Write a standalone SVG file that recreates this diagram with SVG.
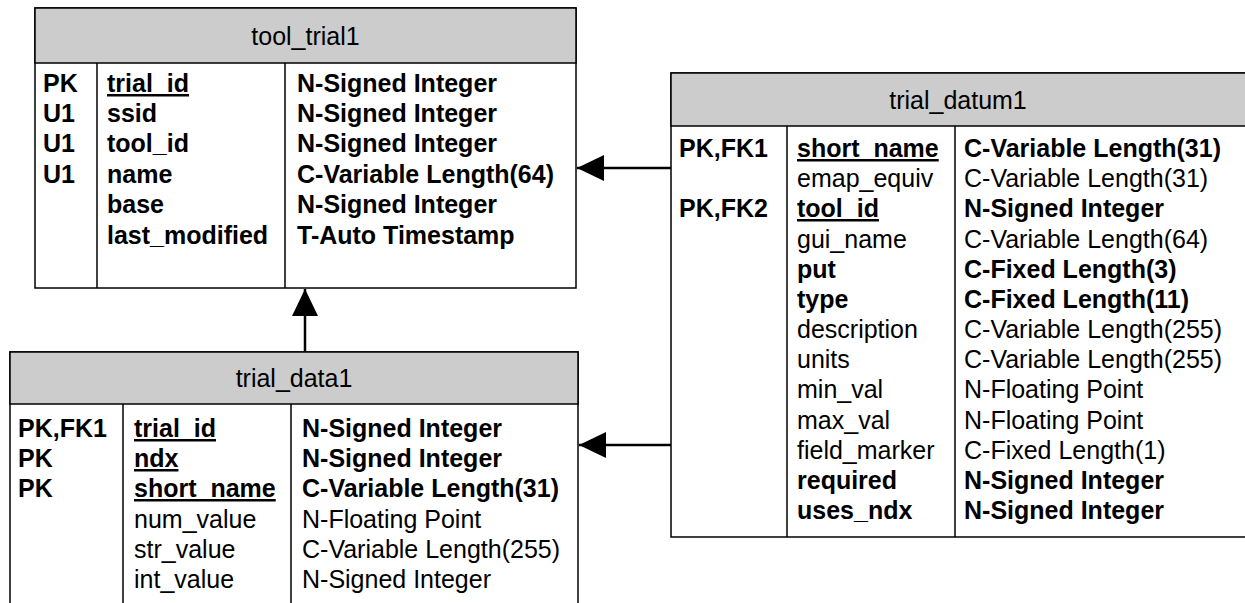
<svg xmlns="http://www.w3.org/2000/svg" width="1245" height="603" viewBox="0 0 1245 603">
<style>
.box{fill:#fff;stroke:#000;stroke-width:1.5}
.hdr{fill:#cccccc;stroke:#000;stroke-width:1.5}
.div{stroke:#000;stroke-width:1.5;fill:none}
text{font-family:"Liberation Sans",Arial,sans-serif;font-size:25px;fill:#000}
.t{text-anchor:middle}
.b{font-weight:bold}
.u{text-decoration:underline}
.conn{stroke:#000;stroke-width:2.5;fill:none}
</style>
<defs>
<marker id="arr" markerUnits="userSpaceOnUse" viewBox="0 0 27 26" refX="27" refY="13" markerWidth="27" markerHeight="26" orient="auto">
<path d="M0,0 L27,13 L0,26 Z" fill="#000"/>
</marker>
</defs>

<g id="tool_trial1">
<rect class="box" x="35" y="8" width="541" height="280"/>
<rect class="hdr" x="35" y="8" width="541" height="55"/>
<line class="div" x1="97" y1="63" x2="97" y2="288"/>
<line class="div" x1="285" y1="63" x2="285" y2="288"/>
<text class="t" x="305.5" y="45">tool_trial1</text>
<text class="b" x="43" y="92">PK</text>
<text class="b" x="43" y="122">U1</text>
<text class="b" x="43" y="152">U1</text>
<text class="b" x="43" y="183">U1</text>
<text class="b u" x="107" y="92">trial_id</text>
<text class="b" x="107" y="122">ssid</text>
<text class="b" x="107" y="152">tool_id</text>
<text class="b" x="107" y="183">name</text>
<text class="b" x="107" y="213">base</text>
<text class="b" x="107" y="244">last_modified</text>
<text class="b" x="297" y="92">N-Signed Integer</text>
<text class="b" x="297" y="122">N-Signed Integer</text>
<text class="b" x="297" y="152">N-Signed Integer</text>
<text class="b" x="297" y="183">C-Variable Length(64)</text>
<text class="b" x="297" y="213">N-Signed Integer</text>
<text class="b" x="297" y="244">T-Auto Timestamp</text>
</g>

<g id="trial_datum1">
<rect class="box" x="671" y="73" width="575" height="464"/>
<rect class="hdr" x="671" y="73" width="575" height="53"/>
<line class="div" x1="787" y1="126" x2="787" y2="537"/>
<line class="div" x1="955" y1="126" x2="955" y2="537"/>
<text class="t" x="958" y="109">trial_datum1</text>
<text class="b" x="679" y="157">PK,FK1</text>
<text class="b" x="679" y="217">PK,FK2</text>
<text class="b u" x="797" y="157">short_name</text>
<text x="797" y="187">emap_equiv</text>
<text class="b u" x="797" y="217">tool_id</text>
<text x="797" y="248">gui_name</text>
<text class="b" x="797" y="278">put</text>
<text class="b" x="797" y="308">type</text>
<text x="797" y="338">description</text>
<text x="797" y="368">units</text>
<text x="797" y="398">min_val</text>
<text x="797" y="429">max_val</text>
<text x="797" y="459">field_marker</text>
<text class="b" x="797" y="489">required</text>
<text class="b" x="797" y="519">uses_ndx</text>
<text class="b" x="964" y="157">C-Variable Length(31)</text>
<text x="964" y="187">C-Variable Length(31)</text>
<text class="b" x="964" y="217">N-Signed Integer</text>
<text x="964" y="248">C-Variable Length(64)</text>
<text class="b" x="964" y="278">C-Fixed Length(3)</text>
<text class="b" x="964" y="308">C-Fixed Length(11)</text>
<text x="964" y="338">C-Variable Length(255)</text>
<text x="964" y="368">C-Variable Length(255)</text>
<text x="964" y="398">N-Floating Point</text>
<text x="964" y="429">N-Floating Point</text>
<text x="964" y="459">C-Fixed Length(1)</text>
<text class="b" x="964" y="489">N-Signed Integer</text>
<text class="b" x="964" y="519">N-Signed Integer</text>
</g>

<g id="trial_data1">
<rect class="box" x="10" y="352" width="568" height="270"/>
<rect class="hdr" x="10" y="352" width="568" height="52"/>
<line class="div" x1="123" y1="404" x2="123" y2="610"/>
<line class="div" x1="291" y1="404" x2="291" y2="610"/>
<text class="t" x="294" y="387">trial_data1</text>
<text class="b" x="18" y="437">PK,FK1</text>
<text class="b" x="18" y="467">PK</text>
<text class="b" x="18" y="497">PK</text>
<text class="b u" x="134" y="437">trial_id</text>
<text class="b u" x="134" y="467">ndx</text>
<text class="b u" x="134" y="497">short_name</text>
<text x="134" y="528">num_value</text>
<text x="134" y="558">str_value</text>
<text x="134" y="588">int_value</text>
<text class="b" x="302" y="437">N-Signed Integer</text>
<text class="b" x="302" y="467">N-Signed Integer</text>
<text class="b" x="302" y="497">C-Variable Length(31)</text>
<text x="302" y="528">N-Floating Point</text>
<text x="302" y="558">C-Variable Length(255)</text>
<text x="302" y="588">N-Signed Integer</text>
</g>

<g id="connectors">
<line class="conn" x1="671" y1="168" x2="577" y2="168" marker-end="url(#arr)"/>
<line class="conn" x1="671" y1="445" x2="579" y2="445" marker-end="url(#arr)"/>
<line class="conn" x1="305" y1="352" x2="305" y2="289" marker-end="url(#arr)"/>
</g>
</svg>
